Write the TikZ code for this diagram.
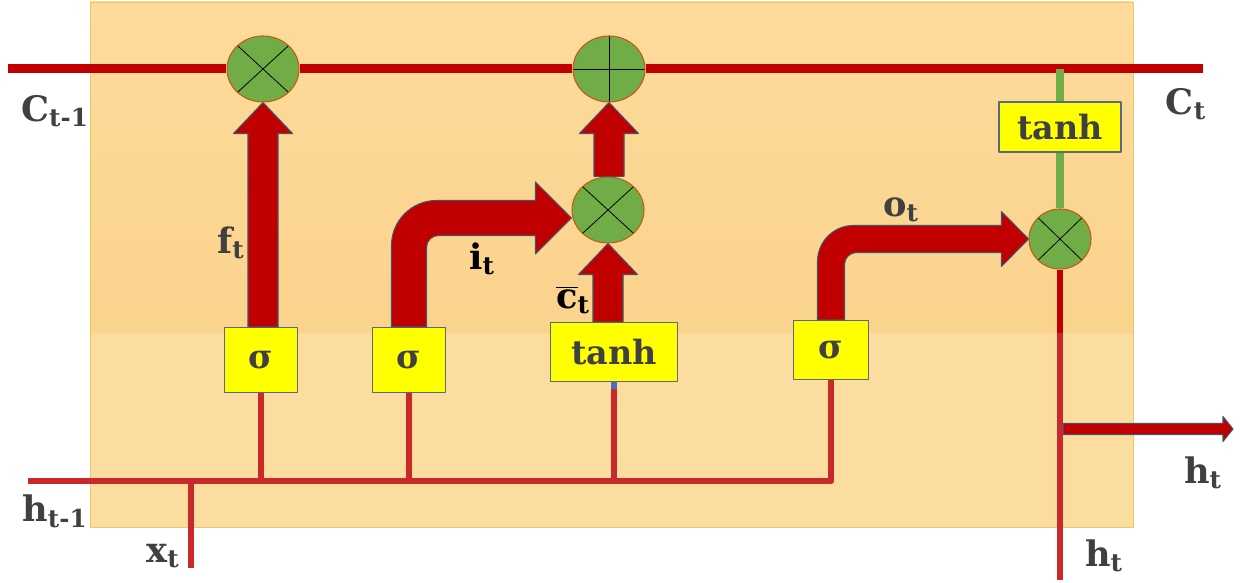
\documentclass[tikz,border=0pt]{standalone}
\usepackage{fontspec}
\setmainfont{DejaVu Serif}
\usetikzlibrary{calc,shapes.geometric}
\definecolor{bgtop}{RGB}{253,219,156}
\definecolor{bgmid}{RGB}{250,211,140}
\definecolor{bglow}{RGB}{251,221,160}
\definecolor{bgedge}{RGB}{240,200,96}
\definecolor{arrred}{RGB}{192,0,0}
\definecolor{wirered}{RGB}{203,40,44}
\definecolor{arredge}{RGB}{68,84,106}
\definecolor{opgreen}{RGB}{112,173,71}
\definecolor{opedge}{RGB}{197,90,17}
\definecolor{gatey}{RGB}{255,255,0}
\definecolor{gateedge}{RGB}{90,104,130}
\definecolor{txtgray}{RGB}{64,64,64}
\definecolor{markblue}{RGB}{68,114,196}
% fat block arrow straight up, shaft on the x of the target
\newcommand{\fatup}[2]{%
  \filldraw[fatarrow] let \p1=(#1), \p2=(#2) in
    (\x2-3mm,\y1) -- (\x2-3mm,\y2-6.2mm) -- (\x2-5.9mm,\y2-6.2mm) -- (\x2,\y2)
    -- (\x2+5.9mm,\y2-6.2mm) -- (\x2+3mm,\y2-6.2mm) -- (\x2+3mm,\y1) -- cycle;}
% fat block arrow going up, bending right: half shaft, half head, head length, outer r, inner r
\newcommand{\fatbend}[7]{%
  \filldraw[fatarrow] let \p1=(#1), \p2=(#2) in
    (\x1-#3,\y1) -- (\x1-#3,\y2+#3-#6) arc[start angle=180,end angle=90,radius=#6]
    -- (\x2-#5,\y2+#3) -- (\x2-#5,\y2+#4) -- (\x2,\y2) -- (\x2-#5,\y2-#4)
    -- (\x2-#5,\y2-#3) -- (\x1+#3+#7,\y2-#3) arc[start angle=90,end angle=180,radius=#7]
    -- (\x1+#3,\y1) -- cycle;}
\begin{document}
\begin{tikzpicture}[x=0.2mm,y=0.2mm,line join=round,
  gate/.style={draw=gateedge,line width=0.6pt,fill=gatey,text=txtgray,inner sep=0pt,
    font=\fontsize{19}{19}\selectfont\bfseries},
  opnode/.style={ellipse,draw=opedge,fill=opgreen,line width=0.6pt,inner sep=0pt,
    minimum width=14.4mm,minimum height=13.2mm},
  mul/.style={opnode,path picture={\draw[black,line width=0.45pt]
    (path picture bounding box.north west)--(path picture bounding box.south east)
    (path picture bounding box.north east)--(path picture bounding box.south west);}},
  add/.style={opnode,path picture={\draw[black,line width=0.45pt]
    (path picture bounding box.north)--(path picture bounding box.south)
    (path picture bounding box.west)--(path picture bounding box.east);}},
  lbl/.style={text=txtgray,inner sep=0pt,font=\fontsize{20}{20}\selectfont\bfseries},
  fatarrow/.style={fill=arrred,draw=arredge,line width=0.6pt},
  cwire/.style={draw=arrred,line width=1.8mm},
  hwire/.style={draw=wirered,line width=1.35mm},
  gwire/.style={draw=opgreen,line width=1.6mm}]
  \useasboundingbox (0,0) rectangle (1253,583);

  % cell background
  \shade[top color=bgtop,bottom color=bgmid] (90,250) rectangle (1133,581);
  \fill[bglow] (90,56) rectangle (1133,250);
  \draw[bgedge,line width=0.5pt] (90,56) rectangle (1133,581);

  % operations and gates
  \node[mul] (mulf) at (263,514) {};
  \node[add] (addc) at (609,514) {};
  \node[mul] (muli) at (608,373) {};
  \node[mul,minimum width=12.4mm,minimum height=12mm] (mulo) at (1060,344) {};
  \node[gate,minimum width=14.6mm,minimum height=13mm] (sigf) at (261,223) {σ};
  \node[gate,minimum width=14.6mm,minimum height=13mm] (sigi) at (409,223) {σ};
  \node[gate,minimum width=25.4mm,minimum height=11.8mm] (tanhc) at (614,231) {tanh};
  \node[gate,minimum width=15mm,minimum height=11.8mm] (sigo) at (831,233) {σ};
  \node[gate,minimum width=24.4mm,minimum height=10mm] (tanhh) at (1060,456) {tanh};

  \coordinate (cin) at (8,514);
  \coordinate (cout) at (1203,514);
  \coordinate (hin) at (28,102);
  \coordinate (xin) at (191,15);
  \coordinate (hmid) at (1060,250);
  \coordinate (hsplit) at (1060,154);
  \coordinate (hbot) at (1060,3);
  \coordinate (hend) at (1233,154);

  % cell state line
  \draw[cwire] (cin) -- (mulf) -- (addc) -- (cout);
  \draw[gwire] (tanhh |- cout) -- (tanhh.north);
  \draw[gwire] (tanhh.south) -- (mulo.north);

  % inputs to the gates
  \draw[hwire] (hin) -- (sigo.south |- hin) -- (sigo.south);
  \draw[hwire] (xin) -- (xin |- hin);
  \draw[hwire] (sigf.south) -- (sigf.south |- hin);
  \draw[hwire] (sigi.south) -- (sigi.south |- hin);
  \draw[hwire] (tanhc.south) -- (tanhc.south |- hin);
  \fill[markblue] ([xshift=-0.6mm]tanhc.south) rectangle ++(1.2mm,-1.4mm);

  % output
  \draw[hwire,draw=arrred] (mulo.south) -- (hmid);
  \draw[hwire] (hmid) -- (hbot);
  \filldraw[fatarrow] let \p1=(hsplit), \p2=(hend) in
    (\x1+0.7mm,\y1-1.1mm) -- (\x2-2mm,\y1-1.1mm) -- (\x2-2mm,\y1-2.5mm) -- (\x2,\y1)
    -- (\x2-2mm,\y1+2.5mm) -- (\x2-2mm,\y1+1.1mm) -- (\x1+0.7mm,\y1+1.1mm) -- cycle;

  % gate outputs
  \fatup{sigf.north}{mulf.south}
  \fatup{muli.north}{addc.south}
  \fatup{tanhc.north}{muli.south}
  \fatbend{sigi.north}{[yshift=-1.6mm]muli.west}{3.5mm}{7.2mm}{7.2mm}{9mm}{2.4mm}
  \fatbend{sigo.north}{mulo.west}{2.7mm}{5.5mm}{5.4mm}{7.2mm}{2.4mm}

  % labels
  \node[lbl] (lcin) at (55,472) {C\textsubscript{t-1}};
  \node[lbl] (lcout) at (1186,479) {C\textsubscript{t}};
  \node[lbl] (lf) at (231,340) {f\textsubscript{t}};
  \node[lbl,text=black] (li) at (482,324) {i\textsubscript{t}};
  \node[lbl,text=black] (lc) at (573,283) {$\overline{\hbox{c}}$\textsubscript{t}};
  \node[lbl] (lo) at (901,373) {o\textsubscript{t}};
  \node[lbl] (lhin) at (55,72) {h\textsubscript{t-1}};
  \node[lbl] (lx) at (163,27) {x\textsubscript{t}};
  \node[lbl] (lhr) at (1203,110) {h\textsubscript{t}};
  \node[lbl] (lhb) at (1104,27) {h\textsubscript{t}};
\end{tikzpicture}
\end{document}
